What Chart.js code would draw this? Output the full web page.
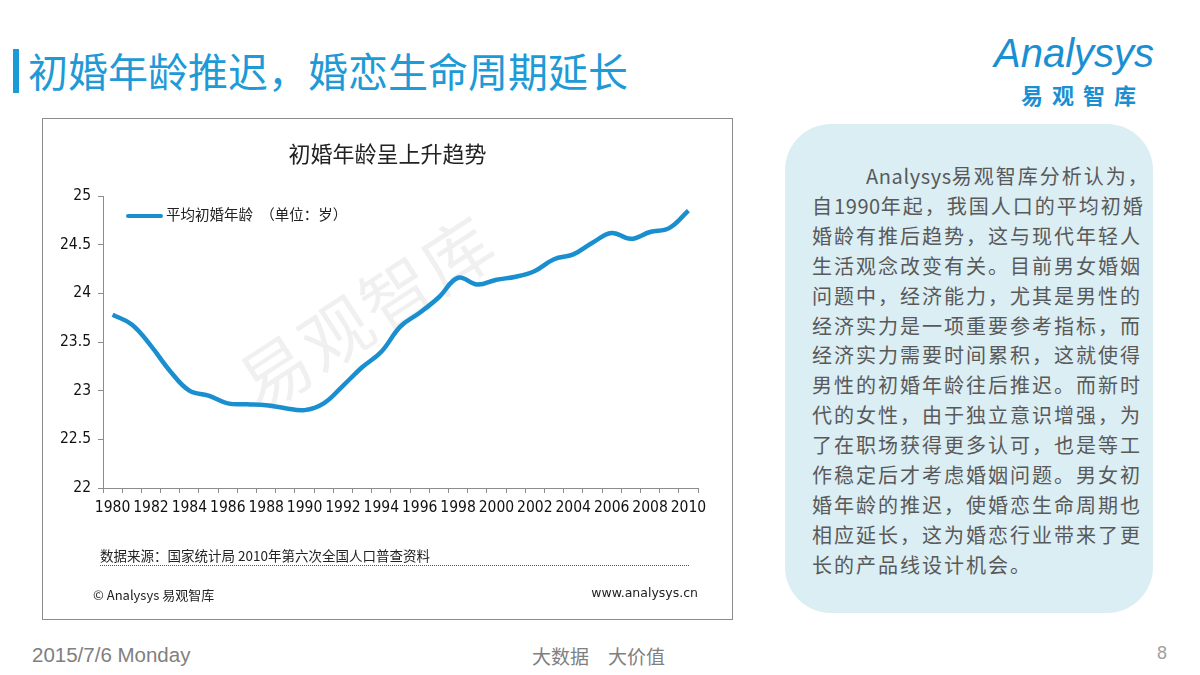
<!DOCTYPE html>
<html>
<head>
<meta charset="utf-8">
<script src="https://cdn.jsdelivr.net/npm/chart.js@4.4.1/dist/chart.umd.min.js"></script>
<style>
  html, body { margin: 0; padding: 0; background: #fff; }
  body { width: 1200px; height: 675px; position: relative; overflow: hidden;
         font-family: "Noto Sans CJK SC", "Noto Sans", sans-serif; }
  .abs { position: absolute; white-space: nowrap; }
  #bar { left: 13px; top: 49px; width: 6px; height: 44px; background: #1a9ad6; }
  #pageTitle { left: 28px; top: 44px; font-size: 40px; line-height: 52px; color: #1e9ad6; }
  #logoEn { left: 994px; top: 31px; font-family: "Liberation Sans", sans-serif; font-size: 40px;
            color: #1a8fd1; letter-spacing: 0px; font-style: italic; }
  #logoCn { left: 1021px; top: 78px; font-size: 22px; font-weight: bold; color: #1a8fd1; letter-spacing: 9px; }
  #chartBox { left: 42px; top: 118px; width: 689px; height: 500px; border: 1px solid #8c8c8c; }
  #chartTitle { left: 0; width: 689px; top: 17px; text-align: center; font-size: 22px; color: #222; }
  #legend { left: 83px; top: 84px; font-size: 14.5px; color: #222; }
  #legend i { display: inline-block; width: 37px; height: 4px; background: #1a8fcf;
              vertical-align: middle; margin-right: 3px; border-radius: 2px; }
  #watermark { left: 178px; top: 140px; font-size: 70px; color: rgba(0,0,0,0.06);
               transform: rotate(-33deg); letter-spacing: 2px; }
  #source { left: 57px; top: 426px; width: 589px; font-size: 13.5px; color: #222;
            border-bottom: 1px dotted #555; line-height: 20px; }
  #copy { left: 50px; top: 466px; font-size: 13px; color: #222; }
  #site { right: 34px; top: 466px; font-size: 12.5px; color: #222; font-family: "DejaVu Sans", sans-serif; }
  #chartCanvas { position: absolute; left: 0; top: 0; }
  #note { left: 785px; top: 124px; width: 368px; height: 489px; background: #dbeef4; border-radius: 46px; }
  #noteText { left: 27px; top: 37px; font-size: 20px; line-height: 29.9px; color: #595959; letter-spacing: 2px; }
  #noteText b { font-weight: normal; letter-spacing: 0.6px; }
  #date { left: 32px; top: 643px; font-family: "Liberation Sans", sans-serif; font-size: 20.5px; color: #808080; }
  #slogan { left: 532px; top: 642px; font-size: 19px; color: #808080; }
  #pageNo { left: 1157px; top: 643px; font-family: "Liberation Sans", sans-serif; font-size: 18px; color: #a0a0a0; }
</style>
</head>
<body>
<div id="bar" class="abs"></div>
<div id="pageTitle" class="abs">初婚年龄推迟，婚恋生命周期延长</div>
<div id="logoEn" class="abs">Analysys</div>
<div id="logoCn" class="abs">易观智库</div>

<div id="chartBox" class="abs">
  <div id="watermark" class="abs">易观智库</div>
  <canvas id="chartCanvas" width="689" height="500"></canvas>
  <div id="chartTitle" class="abs">初婚年龄呈上升趋势</div>
  <div id="legend" class="abs"><i></i>平均初婚年龄　（单位：岁）</div>
  <div id="source" class="abs">数据来源：国家统计局 2010年第六次全国人口普查资料</div>
  <div id="copy" class="abs">© Analysys 易观智库</div>
  <div id="site" class="abs">www.analysys.cn</div>
</div>

<div id="note" class="abs">
  <div id="noteText" class="abs">
    <span style="padding-left:54px"><b>Analysys</b>易观智库分析认为，</span><br>
    自<b>1990</b>年起，我国人口的平均初婚<br>
    婚龄有推后趋势，这与现代年轻人<br>
    生活观念改变有关。目前男女婚姻<br>
    问题中，经济能力，尤其是男性的<br>
    经济实力是一项重要参考指标，而<br>
    经济实力需要时间累积，这就使得<br>
    男性的初婚年龄往后推迟。而新时<br>
    代的女性，由于独立意识增强，为<br>
    了在职场获得更多认可，也是等工<br>
    作稳定后才考虑婚姻问题。男女初<br>
    婚年龄的推迟，使婚恋生命周期也<br>
    相应延长，这为婚恋行业带来了更<br>
    长的产品线设计机会。
  </div>
</div>

<div id="date" class="abs">2015/7/6 Monday</div>
<div id="slogan" class="abs">大数据　大价值</div>
<div id="pageNo" class="abs">8</div>

<script>
// Years on the x axis
const years = ["1980", "1981", "1982", "1983", "1984", "1985", "1986", "1987", "1988", "1989",
    "1990", "1991", "1992", "1993", "1994", "1995", "1996", "1997", "1998", "1999",
    "2000", "2001", "2002", "2003", "2004", "2005", "2006", "2007", "2008", "2009", "2010"];

// Average age at first marriage
const avgAge = [23.78, 23.68, 23.46, 23.20, 23.00, 22.95, 22.87, 22.86, 22.85, 22.82,
    22.80, 22.87, 23.05, 23.24, 23.40, 23.66, 23.80, 23.96, 24.16, 24.09,
    24.14, 24.17, 24.23, 24.35, 24.40, 24.52, 24.62, 24.56, 24.63, 24.67, 24.85];

// y axis range
const yMin = 22;
const yMax = 25;
const yStep = 0.5;

const axisFont = { family: "'DejaVu Sans Condensed', 'Liberation Sans', sans-serif", size: 15.5 };

function initChart() {
    const ctx = document.getElementById("chartCanvas").getContext("2d");
    new Chart(ctx, {
        type: "line",
        data: {
            labels: years,
            datasets: [{
                label: "平均初婚年龄",
                data: avgAge,
                borderColor: "#1a8fcf",
                borderWidth: 4.5,
                pointRadius: 0,
                tension: 0.4,
                fill: false,
            }],
        },
        options: {
            responsive: false,
            animation: false,
            layout: { padding: { left: 0, top: 77, right: 34, bottom: 91 } },
            plugins: {
                legend: { display: false },
                tooltip: { enabled: false },
            },
            scales: {
                x: {
                    offset: true,
                    grid: { offset: true, drawOnChartArea: false, tickLength: 5, color: "#8c8c8c" },
                    border: { color: "#8c8c8c" },
                    ticks: {
                        autoSkip: false,
                        maxRotation: 0,
                        minRotation: 0,
                        padding: 6,
                        color: "#111",
                        font: axisFont,
                        callback: (v, i) => (i % 2 === 0 ? years[i] : ""),
                    },
                    afterFit: (s) => { s.height = 40; },
                },
                y: {
                    min: yMin,
                    max: yMax,
                    grid: { drawOnChartArea: false, tickLength: 5, color: "#8c8c8c" },
                    border: { color: "#8c8c8c" },
                    ticks: {
                        stepSize: yStep,
                        padding: 7,
                        color: "#111",
                        font: axisFont,
                        callback: (v) => String(v),
                    },
                    afterFit: (s) => { s.width = 60; },
                },
            },
        },
    });
}

document.addEventListener("DOMContentLoaded", initChart);
</script>
</body>
</html>
